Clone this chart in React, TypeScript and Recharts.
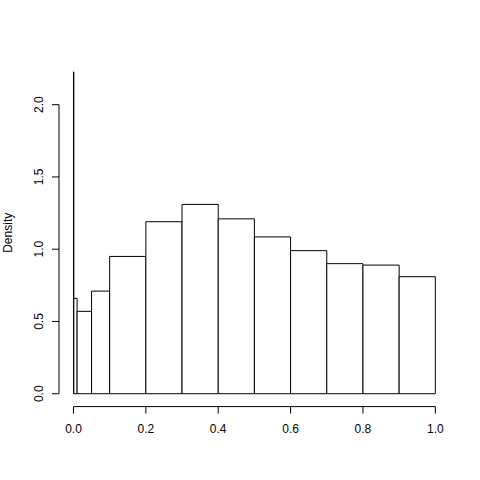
import { ComposedChart, XAxis, YAxis, ReferenceArea, ReferenceLine } from 'recharts'

// histogram breaks (unequal widths at the left end) and bar densities
const breaks = [0, 0.001, 0.01, 0.05, 0.1, 0.2, 0.3, 0.4, 0.5, 0.6, 0.7, 0.8, 0.9, 1.0]
const density = [2.227, 0.66, 0.57, 0.71, 0.95, 1.19, 1.31, 1.21, 1.085, 0.99, 0.9, 0.89, 0.81]
const xTicks = [0, 0.2, 0.4, 0.6, 0.8, 1]
const yTicks = [0, 0.5, 1, 1.5, 2]

const bins = density.map((d, i) => ({ x0: breaks[i], x1: breaks[i + 1], density: d }))

const yMax = Math.max(...density)
const xDomain = [-0.04, 1.04]
const yDomain = [-0.04 * yMax, 1.04 * yMax]

const font = '"Liberation Sans", Arial, Helvetica, sans-serif'

const XTick = ({ x, y, payload }: any) => (
  <text x={x} y={y} dy="0.71em" textAnchor="middle" fontSize={12} fontFamily={font} fill="#000">
    {Number(payload.value).toFixed(1)}
  </text>
)

const YTick = ({ x, y, payload }: any) => (
  <text
    x={x - 7}
    y={y}
    textAnchor="middle"
    fontSize={12}
    fontFamily={font}
    fill="#000"
    transform={`rotate(-90, ${x - 7}, ${y})`}
  >
    {Number(payload.value).toFixed(1)}
  </text>
)

const YLabel = ({ viewBox }: any) => {
  const cy = viewBox.y + viewBox.height / 2
  return (
    <text
      x={12.5}
      y={cy}
      textAnchor="middle"
      fontSize={12}
      fontFamily={font}
      fill="#000"
      transform={`rotate(-90, 12.5, ${cy})`}
    >
      Density
    </text>
  )
}

export default function App() {
  return (
    <div style={{ position: 'absolute', left: 0, top: 0, background: '#fff' }}>
      <ComposedChart
        width={480}
        height={480}
        data={bins}
        margin={{ top: 59, right: 30.2, bottom: 0, left: 0 }}
      >
        <XAxis
          type="number"
          dataKey="x0"
          domain={xDomain}
          ticks={xTicks}
          allowDataOverflow
          height={73.4}
          axisLine={false}
          tickLine={{ stroke: '#000' }}
          tickSize={7}
          tickMargin={11}
          tick={<XTick />}
        />
        <YAxis
          type="number"
          dataKey="density"
          domain={yDomain}
          ticks={yTicks}
          allowDataOverflow
          width={59}
          axisLine={false}
          tickLine={{ stroke: '#000' }}
          tickSize={7}
          tickMargin={2}
          tick={<YTick />}
          label={<YLabel />}
        />
        {bins.map((b, i) => (
          <ReferenceArea
            key={i}
            x1={b.x0}
            x2={b.x1}
            y1={0}
            y2={b.density}
            fill="#fff"
            fillOpacity={1}
            stroke="#000"
            strokeWidth={1}
            ifOverflow="visible"
          />
        ))}
        <ReferenceLine
          segment={[{ x: xTicks[0], y: yDomain[0] }, { x: xTicks[xTicks.length - 1], y: yDomain[0] }]}
          stroke="#000"
          ifOverflow="visible"
        />
        <ReferenceLine
          segment={[{ x: xDomain[0], y: yTicks[0] }, { x: xDomain[0], y: yTicks[yTicks.length - 1] }]}
          stroke="#000"
          ifOverflow="visible"
        />
      </ComposedChart>
    </div>
  )
}
